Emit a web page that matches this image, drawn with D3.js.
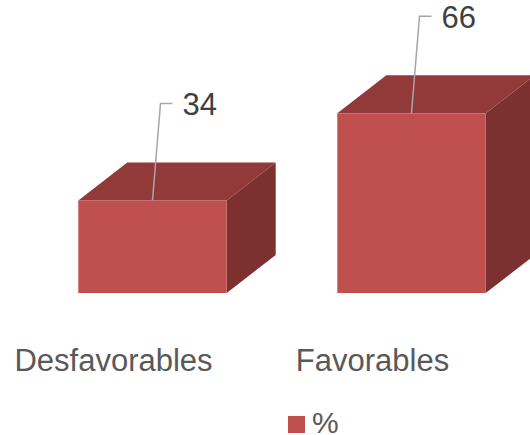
<!DOCTYPE html>
<html>
<head>
<meta charset="utf-8">
<script src="https://cdn.jsdelivr.net/npm/d3@7"></script>
<style>
html,body{margin:0;padding:0;background:#fff;overflow:hidden;}
svg{display:block;}
</style>
</head>
<body>
<svg id="chart" width="530" height="435"></svg>
<script>
const categories = ["Desfavorables", "Favorables"];
const values = [34, 66];
const seriesName = "%";

const svg = d3.select("#chart");
const font = "Arial, 'Liberation Sans', sans-serif";

const x = d3.scaleBand().domain(categories).range([23, 541]).paddingInner(0.427).paddingOuter(0.2135);
const y = d3.scaleLinear().domain([0, 66]).range([293, 113.3]);
const dx = 49, dy = -38;

const g = svg.append("g");
categories.forEach((c, i) => {
  const x0 = x(c), x1 = x0 + x.bandwidth();
  const yt = y(values[i]), yb = y(0);
  g.append("path")
    .attr("d", `M${x1},${yt} L${x1+dx},${yt+dy} L${x1+dx},${yb+dy} L${x1},${yb} Z`)
    .attr("fill", "#7C3030");
  g.append("path")
    .attr("d", `M${x0},${yt} L${x0+dx},${yt+dy} L${x1+dx},${yt+dy} L${x1},${yt} Z`)
    .attr("fill", "#923A39");
  g.append("rect")
    .attr("x", x0).attr("y", yt)
    .attr("width", x.bandwidth()).attr("height", yb - yt)
    .attr("fill", "#C0504D");
  const lx = x0 + x.bandwidth() * 0.5;
  const ly = yt;
  const ex = lx + 8, ey = yt - 97;
  g.append("polyline")
    .attr("points", `${lx},${ly} ${ex},${ey} ${ex+12},${ey}`)
    .attr("fill", "none").attr("stroke", "#A6A6A6").attr("stroke-width", 1.5);
  g.append("text")
    .attr("x", ex + 22).attr("y", ey + 12)
    .attr("font-family", font).attr("font-size", 31)
    .attr("fill", "#404040")
    .text(values[i]);
  g.append("text")
    .attr("x", x0 + x.bandwidth() / 2 - 39).attr("y", 370.5)
    .attr("text-anchor", "middle")
    .attr("font-family", font).attr("font-size", 31)
    .attr("fill", "#595959")
    .text(c);
});

svg.append("rect").attr("x", 288).attr("y", 416).attr("width", 17).attr("height", 17).attr("fill", "#C0504D");
svg.append("text").attr("x", 312).attr("y", 432.5).attr("font-family", font).attr("font-size", 30)
  .attr("fill", "#595959").text(seriesName);
</script>
</body>
</html>
